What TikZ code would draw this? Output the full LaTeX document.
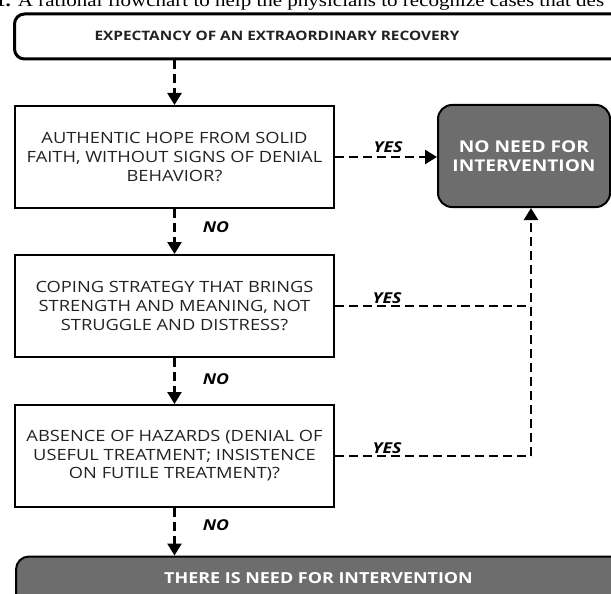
\documentclass[tikz,border=0pt]{standalone}
\usepackage{fontspec}
\setmainfont{Open Sans}[FakeStretch=1.18]
\newfontfamily\capfont{Liberation Serif}[FakeStretch=1.18]
\usetikzlibrary{arrows.meta}
\definecolor{boxgray}{HTML}{6D6D6D}
\definecolor{txt}{HTML}{222222}
\tikzset{
  qbox/.style={draw=black, line width=2pt, minimum width=319pt, minimum height=102pt,
    inner sep=0pt, align=center, text=txt, font=\fontsize{15.5}{18.6}\selectfont},
  flowarrow/.style={line width=2.4pt, dash pattern=on 9pt off 5pt,
    -{Triangle[length=12pt,width=14pt]}},
  flowline/.style={line width=2.4pt, dash pattern=on 9pt off 5pt},
  answer/.style={font=\fontsize{15}{15}\selectfont\bfseries\itshape, inner sep=0pt, anchor=base, text=black},
  endbox/.style={draw=black, line width=2pt, fill=boxgray},
  whitetext/.style={text=white, font=\bfseries\fontsize{15.2}{16}\selectfont, inner sep=0pt, anchor=base},
}
\begin{document}
\begin{tikzpicture}[x=1pt,y=-1pt]
\useasboundingbox (0,0) rectangle (611,594);
\begin{scope}
\clip (0,0) rectangle (611,594);
% caption (cut off in the reference)
\node[anchor=base west, inner sep=0pt, font=\capfont\fontsize{17.8}{18}\selectfont] (cap) at (-5,6.5)
  {\textbf{1.} A rational flowchart to help the physicians to recognize cases that des};
% start box
\node[draw=black, line width=3pt, rounded corners=10pt, minimum width=660pt, minimum height=45pt,
  anchor=north west, inner sep=0pt] (top) at (13,12.5) {};
\node[anchor=base, inner sep=0pt, text=txt, font=\bfseries\fontsize{13}{14}\selectfont] (toptext) at (277,41)
  {EXPECTANCY OF AN EXTRAORDINARY RECOVERY};
% questions
\node[qbox] (q1) at (174.5,157) {AUTHENTIC HOPE FROM SOLID\\FAITH, WITHOUT SIGNS OF DENIAL\\BEHAVIOR?};
\node[qbox] (q2) at (174.5,306) {COPING STRATEGY THAT BRINGS\\STRENGTH AND MEANING, NOT\\STRUGGLE AND DISTRESS?};
\node[qbox] (q3) at (174.5,456) {ABSENCE OF HAZARDS (DENIAL OF\\USEFUL TREATMENT; INSISTENCE\\ON FUTILE TREATMENT)?};
% outcomes
\node[endbox, rounded corners=14pt, minimum width=172pt, minimum height=102pt, inner sep=0pt,
  align=center, text=white, font=\bfseries\fontsize{16.2}{19}\selectfont] (nn) at (524,156)
  {NO NEED FOR\\INTERVENTION};
\node[endbox, rounded corners=13pt, anchor=north west, minimum width=660pt, minimum height=80pt,
  inner sep=0pt] (need) at (15,555.5) {};
\node[whitetext] (needtext) at (318.5,583) {THERE IS NEED FOR INTERVENTION};
% connectors
\draw[flowarrow] (top.south -| q1.north) -- (q1.north);
\draw[flowarrow] (q1.south) -- (q2.north);
\draw[flowarrow] (q2.south) -- (q3.north);
\draw[flowarrow] (q3.south) -- (q3.south |- need.north);
\draw[flowarrow] (q1.east) -- (q1.east -| nn.west);
\coordinate (corner) at (531,456);
\draw[flowline] (q2.east) -- (q2.east -| corner);
\draw[flowline] (q3.east) -- (corner);
\draw[flowarrow] (corner) -- (corner |- nn.south);
% labels
\node[answer] (no1) at (216,232) {NO};
\node[answer] (no2) at (216,384) {NO};
\node[answer] (no3) at (216,530) {NO};
\node[answer] (yes1) at (388,152) {YES};
\node[answer] (yes2) at (387,303) {YES};
\node[answer] (yes3) at (387,453) {YES};
\end{scope}
\end{tikzpicture}
\end{document}
